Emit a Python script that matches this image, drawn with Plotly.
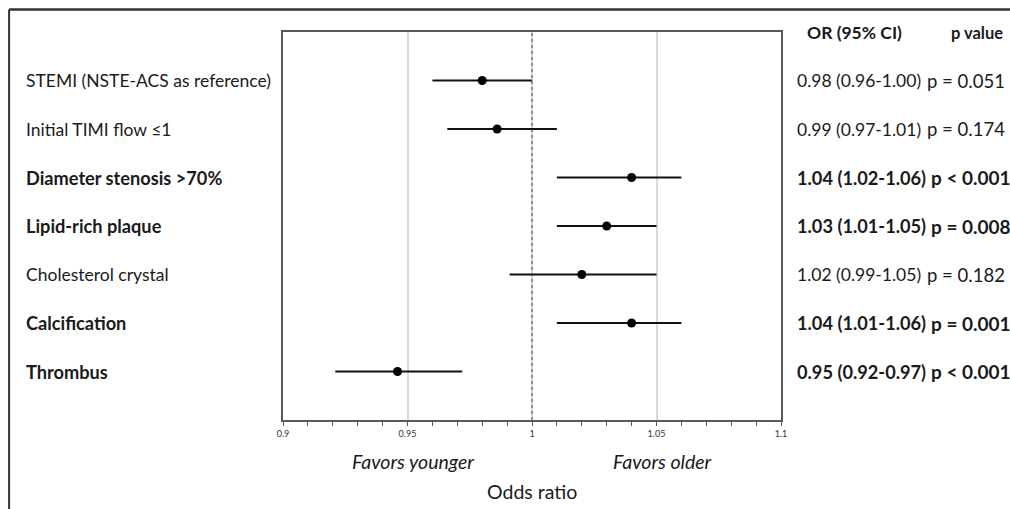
import plotly.graph_objects as go

labels = ["STEMI (NSTE-ACS as reference)", "Initial TIMI flow ≤1", "Diameter stenosis >70%",
          "Lipid-rich plaque", "Cholesterol crystal", "Calcification", "Thrombus"]
odds = [0.980, 0.986, 1.040, 1.030, 1.020, 1.040, 0.946]
ci_low = [0.960, 0.966, 1.010, 1.010, 0.991, 1.010, 0.921]
ci_high = [1.000, 1.010, 1.060, 1.050, 1.050, 1.060, 0.972]
or_text = ["0.98 (0.96-1.00)", "0.99 (0.97-1.01)", "1.04 (1.02-1.06)", "1.03 (1.01-1.05)",
           "1.02 (0.99-1.05)", "1.04 (1.01-1.06)", "0.95 (0.92-0.97)"]
p_text = ["p = 0.051", "p = 0.174", "p < 0.001", "p = 0.008", "p = 0.182", "p = 0.001", "p < 0.001"]
bold = [False, False, True, True, False, True, True]
tick_vals = [0.9, 0.95, 1.0, 1.05, 1.1]
tick_text = ["0.9", "0.95", "1", "1.05", "1.1"]

rows = list(range(1, len(labels) + 1))
FONT = "Lato"
TXT = "#1a1a1a"

fig = go.Figure()
fig.add_trace(go.Scatter(
    x=odds, y=rows, mode="markers",
    marker=dict(color="black", size=9),
    error_x=dict(type="data", symmetric=False,
                 array=[h - o for h, o in zip(ci_high, odds)],
                 arrayminus=[o - l for o, l in zip(odds, ci_low)],
                 color="#111111", thickness=2, width=0),
    showlegend=False, hoverinfo="skip"))

fig.add_shape(type="line", x0=1.0, x1=1.0, y0=0, y1=1, xref="x", yref="paper",
              line=dict(color="#444444", width=1, dash="dot"))

# outer frame (extends beyond the visible picture at right and bottom)
fig.add_shape(type="line", xref="paper", yref="paper", x0=-0.550, x1=1.6, y0=1.058, y1=1.058,
              line=dict(color="#333333", width=2.5))
fig.add_shape(type="line", xref="paper", yref="paper", x0=-0.550, x1=-0.550, y0=-0.4, y1=1.058,
              line=dict(color="#333333", width=2))

ann = []
for r, lab, o, p, b in zip(rows, labels, or_text, p_text, bold):
    if b:
        f = dict(family=FONT, size=18.2, color=TXT)
        fp = dict(family=FONT, size=19, color=TXT)
        px = 1.297
        wrap = lambda s: f"<b>{s}</b>"
    else:
        f = dict(family=FONT, size=17.5, color=TXT)
        fp = dict(family=FONT, size=18.5, color=TXT)
        px = 1.289
        wrap = lambda s: s
    ann.append(dict(x=-0.520, y=r, xref="paper", yref="y", text=wrap(lab), showarrow=False,
                    xanchor="left", yanchor="middle", font=f))
    ann.append(dict(x=1.028, y=r, xref="paper", yref="y", text=wrap(o), showarrow=False,
                    xanchor="left", yanchor="middle", font=f))
    ann.append(dict(x=px, y=r, xref="paper", yref="y", text=wrap(p), showarrow=False,
                    xanchor="left", yanchor="middle", font=fp))

hf = dict(family=FONT, size=17.5, color=TXT)
pf = dict(family=FONT, size=16.5, color=TXT)
bf = dict(family=FONT, size=19.5, color=TXT)
ann.append(dict(x=1.048, y=0.02, xref="paper", yref="y", text="<b>OR (95% CI)</b>", showarrow=False,
                xanchor="left", yanchor="middle", font=hf))
ann.append(dict(x=1.337, y=0.02, xref="paper", yref="y", text="<b>p value</b>", showarrow=False,
                xanchor="left", yanchor="middle", font=pf))
ann.append(dict(x=0.261, y=-0.1057, xref="paper", yref="paper", text="<i>Favors younger</i>",
                showarrow=False, xanchor="center", yanchor="middle", font=bf))
ann.append(dict(x=0.763, y=-0.1057, xref="paper", yref="paper", text="<i>Favors older</i>",
                showarrow=False, xanchor="center", yanchor="middle", font=bf))
ann.append(dict(x=0.5, y=-0.183, xref="paper", yref="paper", text="Odds ratio",
                showarrow=False, xanchor="center", yanchor="middle", font=bf))

fig.update_layout(
    width=1010, height=509,
    margin=dict(l=283, r=229, t=32, b=89),
    paper_bgcolor="white", plot_bgcolor="white",
    annotations=ann,
    xaxis=dict(range=[0.9, 1.1], tickvals=tick_vals, ticktext=tick_text,
               showgrid=True, gridcolor="#d9d9d9", gridwidth=1.5,
               showline=True, linecolor="#595959", linewidth=1.5, mirror=True,
               ticks="outside", ticklen=4, tickcolor="#595959",
               minor=dict(dtick=0.01, ticks="outside", ticklen=4, tickcolor="#595959", showgrid=False),
               tickfont=dict(family=FONT, size=9, color="#333333"), zeroline=False),
    yaxis=dict(range=[8, 0], showticklabels=False, showgrid=False, zeroline=False,
               showline=True, linecolor="#595959", linewidth=1.5, mirror=True, ticks=""),
)

fig.write_html("out.html", config={"displayModeBar": False},
               post_script="document.body.style.margin='0';document.body.style.overflow='hidden';")
